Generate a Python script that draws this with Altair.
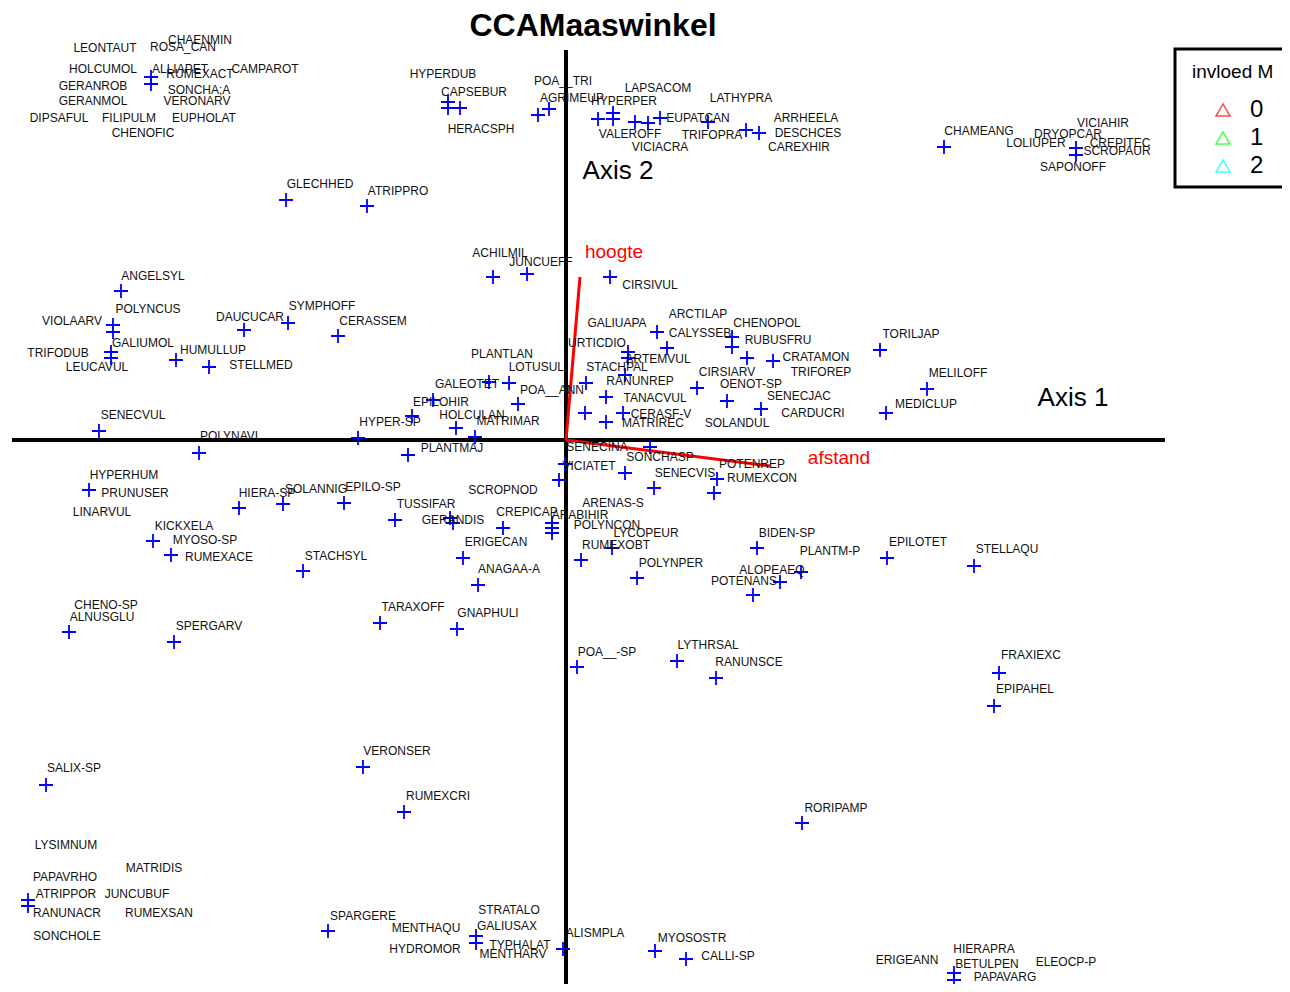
import altair as alt
import pandas as pd

# ---- species labels (text) and their label positions in CCA score units ----
species = [
    "LEONTAUT","ROSA_CAN","CHAENMIN","HOLCUMOL","ALLIAPET","RUMEXACT","CAMPAROT","GERANROB","SONCHA;A","GERANMOL",
    "VERONARV","DIPSAFUL","FILIPULM","EUPHOLAT","CHENOFIC","HYPERDUB","CAPSEBUR","HERACSPH","POA__TRI","AGRIMEUP",
    "HYPERPER","LAPSACOM","LATHYPRA","EUPATCAN","ARRHEELA","VALEROFF","TRIFOPRA","DESCHCES","VICIACRA","CAREXHIR",
    "CHAMEANG","VICIAHIR","DRYOPCAR","LOLIUPER","CREPITEC","SCROPAUR","SAPONOFF","GLECHHED","ATRIPPRO","ACHILMIL",
    "JUNCUEFF","CIRSIVUL","ANGELSYL","POLYNCUS","SYMPHOFF","VIOLAARV","DAUCUCAR","CERASSEM","GALIUMOL","HUMULLUP",
    "TRIFODUB","LEUCAVUL","STELLMED","SENECVUL","POLYNAVI","GALIUAPA","ARCTILAP","CALYSSEB","CHENOPOL","RUBUSFRU",
    "TORILJAP","URTICDIO","PLANTLAN","ARTEMVUL","CRATAMON","LOTUSULI","STACHPAL","TRIFOREP","CIRSIARV","MELILOFF",
    "GALEOTET","RANUNREP","OENOT-SP","POA__ANN","SENECJAC","EPILOHIR","TANACVUL","MEDICLUP","HOLCULAN","CERASF-V",
    "CARDUCRI","MATRIMAR","HYPER-SP","MATRIREC","SOLANDUL","PLANTMAJ","SENECINA","SONCHASP","POTENREP","VICIATET",
    "SENECVIS","RUMEXCON","HYPERHUM","PRUNUSER","HIERA-SP","SOLANNIG","EPILO-SP","SCROPNOD","ARENAS-S","LINARVUL",
    "TUSSIFAR","CREPICAP","ARABIHIR","GERANDIS","POLYNCON","KICKXELA","LYCOPEUR","BIDEN-SP","MYOSO-SP","EPILOTET",
    "ERIGECAN","RUMEXOBT","STELLAQU","PLANTM-P","RUMEXACE","STACHSYL","POLYNPER","ANAGAA-A","ALOPEAEQ","POTENANS",
    "CHENO-SP","TARAXOFF","GNAPHULI","ALNUSGLU","SPERGARV","LYTHRSAL","POA__-SP","FRAXIEXC","RANUNSCE","EPIPAHEL",
    "VERONSER","SALIX-SP","RUMEXCRI","RORIPAMP","LYSIMNUM","MATRIDIS","PAPAVRHO","ATRIPPOR","JUNCUBUF","STRATALO",
    "RANUNACR","RUMEXSAN","SPARGERE","GALIUSAX","MENTHAQU","ALISMPLA","SONCHOLE","MYOSOSTR","TYPHALAT","HYDROMOR",
    "HIERAPRA","MENTHARV","CALLI-SP","ERIGEANN","ELEOCP-P","BETULPEN","PAPAVARG",
]
label_x = [
    -4.61,-3.83,-3.66,-4.63,-3.86,-3.66,-3.01,-4.73,-3.67,-4.73,
    -3.69,-5.07,-4.37,-3.62,-4.23,-1.23,-0.92,-0.85,-0.03,0.06,
    0.58,0.92,1.75,1.32,2.40,0.64,1.46,2.42,0.94,2.33,
    4.13,5.37,5.02,4.70,5.54,5.51,5.07,-2.46,-1.68,-0.66,
    -0.25,0.84,-4.13,-4.18,-2.44,-4.94,-3.16,-1.93,-4.23,-3.53,
    -5.08,-4.69,-3.05,-4.33,-3.37,0.51,1.32,1.34,2.01,2.12,
    3.45,0.31,-0.64,0.92,2.50,-0.28,0.51,2.55,1.61,3.92,
    -0.99,0.74,1.85,-0.14,2.33,-1.25,0.89,3.60,-0.94,0.95,
    2.47,-0.58,-1.76,0.87,1.71,-1.14,0.31,0.94,1.86,0.23,
    1.19,1.96,-4.42,-4.31,-2.99,-2.50,-1.93,-0.63,0.47,-4.64,
    -1.40,-0.39,0.14,-1.13,0.41,-3.82,0.80,2.21,-3.61,3.52,
    -0.70,0.50,4.41,2.64,-3.47,-2.30,1.05,-0.57,2.06,1.78,
    -4.60,-1.53,-0.78,-4.64,-3.57,1.42,0.41,4.65,1.83,4.59,
    -1.69,-4.92,-1.28,2.70,-5.00,-4.12,-5.01,-5.00,-4.29,-0.57,
    -4.99,-4.07,-2.03,-0.59,-1.40,0.29,-4.99,1.26,-0.46,-1.41,
    4.18,-0.53,1.62,3.41,5.00,4.21,4.39,
]
label_y = [
    3.92,3.93,4.00,3.71,3.71,3.66,3.71,3.54,3.50,3.39,
    3.39,3.22,3.22,3.22,3.07,3.66,3.48,3.11,3.59,3.42,
    3.39,3.52,3.42,3.22,3.22,3.06,3.05,3.07,2.93,2.93,
    3.09,3.17,3.06,2.97,2.97,2.89,2.73,2.56,2.49,1.87,
    1.78,1.55,1.64,1.31,1.34,1.19,1.23,1.19,0.97,0.90,
    0.87,0.73,0.75,0.25,0.04,1.17,1.26,1.07,1.17,1.00,
    1.06,0.97,0.86,0.81,0.83,0.73,0.73,0.68,0.68,0.67,
    0.56,0.59,0.56,0.50,0.44,0.38,0.42,0.36,0.25,0.26,
    0.27,0.19,0.18,0.17,0.17,-0.08,-0.07,-0.17,-0.24,-0.26,
    -0.33,-0.38,-0.35,-0.53,-0.53,-0.49,-0.47,-0.50,-0.63,-0.72,
    -0.64,-0.72,-0.75,-0.80,-0.85,-0.86,-0.93,-0.93,-1.00,-1.02,
    -1.02,-1.05,-1.09,-1.11,-1.17,-1.16,-1.23,-1.29,-1.30,-1.41,
    -1.65,-1.67,-1.73,-1.77,-1.86,-2.05,-2.12,-2.15,-2.22,-2.49,
    -3.11,-3.28,-3.56,-3.68,-4.05,-4.28,-4.37,-4.54,-4.54,-4.70,
    -4.73,-4.73,-4.76,-4.86,-4.88,-4.93,-4.96,-4.98,-5.05,-5.09,
    -5.09,-5.14,-5.16,-5.20,-5.22,-5.24,-5.37,
]

# ---- species scores (plotted as + markers), CCA axis 1 / axis 2 ----
score_x = [
    -4.15,-4.15,-2.80,-1.99,-4.45,-4.53,-4.53,-3.22,-2.78,-4.55,
    -4.55,-3.90,-3.57,-2.28,-4.67,-3.67,-4.77,-3.27,-2.83,-4.13,
    -3.95,-2.63,-4.97,-3.92,-1.18,-1.18,-1.06,-0.28,-0.17,0.32,
    0.47,0.47,0.69,0.82,0.94,1.42,1.80,1.93,3.78,5.10,
    5.10,-0.73,-0.39,0.44,0.91,1.01,1.66,1.66,1.81,2.07,
    3.14,1.31,1.61,1.95,3.61,3.20,0.62,0.62,0.59,0.20,
    0.40,0.19,0.40,0.57,-0.77,-0.57,-0.48,-1.33,-1.54,-1.10,
    -0.91,-2.08,-1.58,0.84,-0.01,0.59,-0.07,0.88,1.51,1.48,
    -2.22,-1.71,-1.16,-1.13,-0.63,-0.14,-0.14,-0.14,0.46,0.15,
    0.71,-1.03,-0.88,-1.86,-1.09,1.91,3.21,2.35,2.14,1.87,
    4.08,0.11,1.11,1.50,4.33,4.28,-5.20,-2.03,-1.62,2.36,
    -5.38,-5.38,-2.38,-0.90,-0.90,-0.03,0.89,1.20,3.88,3.88,
]
score_y = [
    3.63,3.56,2.40,2.34,1.49,1.15,1.08,1.10,1.17,0.88,
    0.82,0.80,0.73,1.04,0.09,-0.13,-0.50,-0.68,-0.64,-1.01,
    -1.15,-1.31,-1.92,-2.02,3.38,3.32,3.32,3.25,3.31,3.21,
    3.27,3.21,3.18,3.17,3.22,3.18,3.10,3.07,2.93,2.92,
    2.85,1.63,1.66,1.63,1.08,0.92,1.03,0.93,0.82,0.79,
    0.90,0.52,0.39,0.31,0.51,0.27,0.88,0.82,0.65,0.57,
    0.43,0.27,0.18,0.27,0.58,0.57,0.36,0.40,0.24,0.12,
    0.03,0.02,-0.15,-0.07,-0.24,-0.33,-0.40,-0.48,-0.39,-0.53,
    -0.63,-0.80,-0.78,-0.83,-0.88,-0.83,-0.88,-0.93,-1.08,-1.20,
    -1.38,-1.18,-1.45,-1.83,-1.89,-1.08,-1.18,-1.32,-1.42,-1.55,
    -1.26,-2.27,-2.21,-2.38,-2.33,-2.66,-3.45,-3.27,-3.72,-3.83,
    -4.60,-4.66,-4.91,-4.96,-5.03,-5.09,-5.11,-5.19,-5.33,-5.40,
]

# ---- environmental variable arrows (biplot scores) ----
env_names = ["hoogte", "afstand"]
env_x = [0.14, 2.04]
env_y = [1.63, -0.26]
env_lab_x = [0.48, 2.73]
env_lab_y = [1.88, -0.18]

# ---- axis annotations ----
axis_names = ["Axis 1", "Axis 2"]
axis_lab_x = [5.07, 0.52]
axis_lab_y = [0.42, 2.69]
axis_line_x = [-5.54, 0.0]
axis_line_x2 = [5.99, 0.0]
axis_line_y = [0.0, 3.90]
axis_line_y2 = [0.0, -5.44]

title_text = ["CCAMaaswinkel"]
title_x = [0.27]
title_y = [4.14]

legend_keys = ["0", "1", "2"]
legend_colors = ["#ff0000", "#00ff00", "#00ffff"]
legend_box = {"x": [6.09], "x2": [7.40], "y": [3.91], "y2": [2.53]}

assert len(species) == len(label_x) == len(label_y)
assert len(score_x) == len(score_y)

FONT = "Liberation Sans"
xs = alt.Scale(domain=[-5.58, 7.16], nice=False, zero=False)
ys = alt.Scale(domain=[-5.44, 4.32], nice=False, zero=False)

def X(f):
    return alt.X(f, type="quantitative", scale=xs, axis=None)

def Y(f):
    return alt.Y(f, type="quantitative", scale=ys, axis=None)

lab_df = pd.DataFrame({"species": species, "x": label_x, "y": label_y})
pt_df = pd.DataFrame({"x": score_x, "y": score_y})
env_df = pd.DataFrame({"name": env_names, "x0": [0.0, 0.0], "y0": [0.0, 0.0],
                       "x": env_x, "y": env_y, "lx": env_lab_x, "ly": env_lab_y})
axl_df = pd.DataFrame({"x": axis_line_x, "x2": axis_line_x2, "y": axis_line_y, "y2": axis_line_y2})
axt_df = pd.DataFrame({"name": axis_names, "x": axis_lab_x, "y": axis_lab_y})
ttl_df = pd.DataFrame({"t": title_text, "x": title_x, "y": title_y})
leg_df = pd.DataFrame({"invloed": legend_keys, "x": [None] * 3, "y": [None] * 3})
box_df = pd.DataFrame(legend_box)

axes_lines = alt.Chart(axl_df).mark_rule(color="black", strokeWidth=4).encode(
    x=X("x"), x2="x2", y=Y("y"), y2="y2")

points = alt.Chart(pt_df).mark_point(
    shape="M -1 0 L 1 0 M 0 -1 L 0 1", filled=False, size=196,
    strokeWidth=1.8, color="#0000ff", opacity=1).encode(x=X("x"), y=Y("y"))

labels = alt.Chart(lab_df).mark_text(
    font=FONT, fontSize=12, color="#111111", align="center", baseline="middle").encode(
    x=X("x"), y=Y("y"), text="species:N")

arrows = alt.Chart(env_df).mark_rule(color="#ff0000", strokeWidth=3).encode(
    x=X("x0"), y=Y("y0"), x2="x", y2="y")

env_text = alt.Chart(env_df).mark_text(
    font=FONT, fontSize=19, color="#ff0000", align="center", baseline="middle").encode(
    x=X("lx"), y=Y("ly"), text="name:N")

axis_text = alt.Chart(axt_df).mark_text(
    font=FONT, fontSize=26, color="black", align="center", baseline="middle").encode(
    x=X("x"), y=Y("y"), text="name:N")

title = alt.Chart(ttl_df).mark_text(
    font=FONT, fontSize=32, fontWeight="bold", color="black", align="center", baseline="middle").encode(
    x=X("x"), y=Y("y"), text="t:N")

box = alt.Chart(box_df).mark_rect(
    fillOpacity=0, stroke="black", strokeWidth=3, clip=True).encode(
    x=X("x"), x2="x2", y=Y("y"), y2="y2")

legend_layer = alt.Chart(leg_df).mark_point(
    shape="triangle-up", filled=False, size=196, strokeWidth=1.5).encode(
    x=X("x"), y=Y("y"),
    color=alt.Color("invloed:N",
                    scale=alt.Scale(domain=legend_keys, range=legend_colors),
                    legend=alt.Legend(title="invloed M", orient="none",
                                      legendX=1167, legendY=38)))

chart = alt.layer(axes_lines, arrows, points, labels, env_text, axis_text, title, box, legend_layer).properties(
    width=1274, height=976, autosize="none", padding=0
).configure_view(stroke=None).configure_legend(
    padding=17, cornerRadius=0,
    titleFont=FONT, titleFontSize=19, titleFontWeight="normal", titleColor="black",
    titlePadding=16, labelFont=FONT, labelFontSize=24, labelColor="black",
    labelOffset=15, symbolOffset=19, rowPadding=4, symbolStrokeWidth=1.5, symbolSize=196
)

chart.save("out.html", embed_options={"renderer": "svg", "actions": False})
